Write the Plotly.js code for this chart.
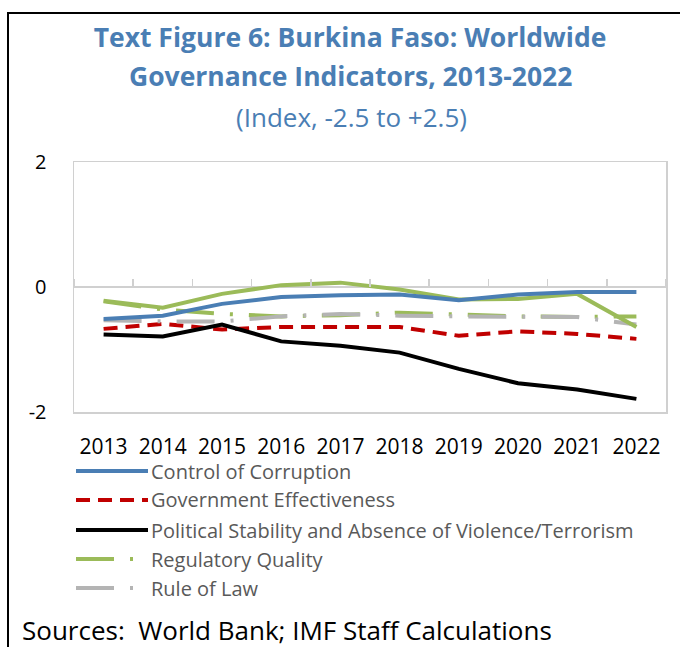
<!DOCTYPE html>
<html>
<head>
<meta charset="utf-8">
<script src="https://cdn.plot.ly/plotly-3.0.1.min.js"></script>
<style>html,body{margin:0;padding:0;background:#fff;}#chart{width:680px;height:647px;}</style>
</head>
<body>
<div id="chart"></div>
<script>
// ---- data ----
const years = ["2013","2014","2015","2016","2017","2018","2019","2020","2021","2022"];
const controlOfCorruption      = [-0.51,-0.46,-0.27,-0.16,-0.13,-0.12,-0.21,-0.12,-0.08,-0.08];
const governmentEffectiveness  = [-0.67,-0.59,-0.68,-0.64,-0.64,-0.64,-0.78,-0.71,-0.75,-0.83];
const politicalStability       = [-0.76,-0.79,-0.60,-0.87,-0.94,-1.05,-1.31,-1.54,-1.64,-1.79];
const regulatoryQuality        = [-0.23,-0.36,-0.43,-0.47,-0.45,-0.41,-0.44,-0.47,-0.48,-0.47];
const ruleOfLaw                = [-0.53,-0.55,-0.55,-0.47,-0.43,-0.46,-0.47,-0.47,-0.48,-0.60];
const voiceAccountability      = [-0.22,-0.33,-0.11,0.03,0.07,-0.04,-0.20,-0.19,-0.11,-0.64];
const seriesNames = ["Control of Corruption","Government Effectiveness",
  "Political Stability and Absence of Violence/Terrorism","Regulatory Quality","Rule of Law"];
const yTicks = [-2, 0, 2];
const yTickLabels = ["-2", "0", "2"];
const titleLine1 = "Text Figure 6: Burkina Faso: Worldwide";
const titleLine2 = "Governance Indicators, 2013-2022";
const subtitle = "(Index, -2.5 to +2.5)";
const sourceNote = "Sources:  World Bank; IMF Staff Calculations";

// ---- styles ----
const W = 680, H = 647;
const M = {l:74, r:14, t:162, b:235};
const pw = W - M.l - M.r, ph = H - M.t - M.b;
const px2x = p => (p - M.l) / pw;
const py2y = p => (H - M.b - p) / ph;

const styles = [
  {color:"#4a7eb4", dash:"solid", width:4},
  {color:"#c00000", dash:"14px,8px", width:4},
  {color:"#000000", dash:"solid", width:4},
  {color:"#9bbb59", dash:"38px,16px,3px,16px", width:4},
  {color:"#b4b4b4", dash:"38px,16px,3px,16px", width:4}
];
const values = [controlOfCorruption, governmentEffectiveness, politicalStability, regulatoryQuality, ruleOfLaw];

const traces = values.map((v,i) => ({
  x: years, y: v, type:"scatter", mode:"lines", name: seriesNames[i],
  xaxis: i===0 ? "x2" : "x",
  line:{color:styles[i].color, width:styles[i].width, dash:styles[i].dash},
  showlegend:false, hoverinfo:"x+y+name"
}));
traces.push({
  x: years, y: voiceAccountability, type:"scatter", mode:"lines", name:"Voice and Accountability",
  line:{color:"#9bbb59", width:4}, showlegend:false
});

const font = "'Open Sans', 'Noto Sans', sans-serif";
const titleColor = "#4a7eb4";
const shapes = [
  {type:"rect", xref:"paper", yref:"paper", x0:px2x(8), x1:px2x(700), y0:py2y(680), y1:py2y(13),
   line:{color:"#000", width:2}, fillcolor:"rgba(0,0,0,0)", layer:"below"}
];
const annotations = [
  {text:"<b>"+titleLine2+"</b>", xref:"paper", yref:"paper", x:px2x(350), y:py2y(76),
   xanchor:"center", yanchor:"middle", showarrow:false, font:{family:font, size:26.5, color:titleColor}},
  {text:subtitle, xref:"paper", yref:"paper", x:px2x(351), y:py2y(117),
   xanchor:"center", yanchor:"middle", showarrow:false, font:{family:font, size:26, color:titleColor}},
  {text:sourceNote, xref:"paper", yref:"paper",
   x:px2x(20), y:py2y(630), xanchor:"left", yanchor:"middle", showarrow:false,
   font:{family:font, size:26, color:"#000"}}
];
const legendRows = [471, 500, 530, 559, 588];
seriesNames.forEach((n,i) => {
  shapes.push({type:"line", xref:"paper", yref:"paper", x0:px2x(76), x1:px2x(148),
    y0:py2y(legendRows[i]), y1:py2y(legendRows[i]),
    line:{color:styles[i].color, width:styles[i].width, dash:styles[i].dash}});
  annotations.push({text:n, xref:"paper", yref:"paper", x:px2x(149), y:py2y(legendRows[i]),
    xanchor:"left", yanchor:"middle", showarrow:false, font:{family:font, size:20, color:"#595959"}});
});

const layout = {
  width:W, height:H, margin:M, paper_bgcolor:"#fff", plot_bgcolor:"#fff",
  showlegend:false,
  font:{family:font, color:"#000"},
  title:{text:"<b>"+titleLine1+"</b>",
    font:{family:font, size:26.5, color:titleColor},
    xref:"container", yref:"container", x:350/W, xanchor:"center", y:1-38/H, yanchor:"middle"},
  xaxis:{type:"category", categoryorder:"array", categoryarray:years, range:[-0.5,9.5],
    showgrid:false, zeroline:false, showline:true, mirror:true, linecolor:"#d0d0d0", linewidth:1.5,
    ticks:"", tickfont:{family:font, size:21, color:"#000"}, ticklabelstandoff:15, fixedrange:true},
  xaxis2:{type:"category", categoryorder:"array", categoryarray:years, range:[-0.5,9.5],
    overlaying:"x", anchor:"free", position:0.5, side:"top", showgrid:false, zeroline:false,
    showline:false, ticks:"outside", tickson:"boundaries", ticklen:8, tickwidth:1.5, tickcolor:"#d0d0d0",
    showticklabels:false, fixedrange:true},
  yaxis:{range:[-2,2], tickvals:yTicks, ticktext:yTickLabels, showgrid:false,
    zeroline:true, zerolinecolor:"#d0d0d0", zerolinewidth:2,
    showline:true, mirror:true, linecolor:"#d0d0d0", linewidth:1.5, ticks:"",
    tickfont:{family:font, size:20, color:"#000"}, ticklabelstandoff:22, fixedrange:true},
  shapes: shapes, annotations: annotations
};
Plotly.newPlot("chart", traces, layout, {displayModeBar:false, staticPlot:true});
</script>
</body>
</html>
